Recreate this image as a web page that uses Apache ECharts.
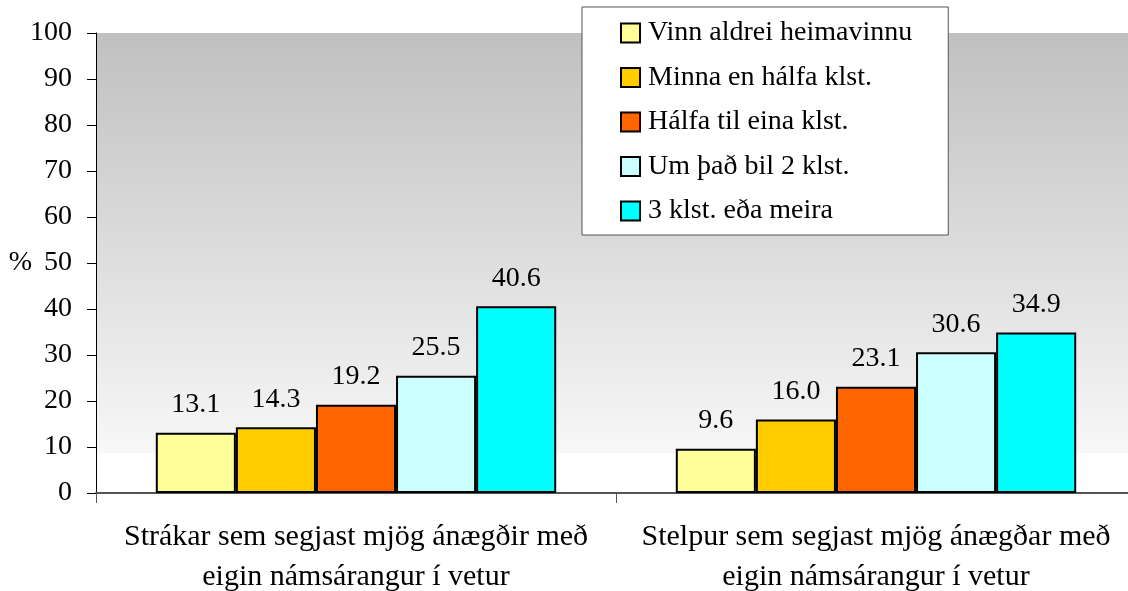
<!DOCTYPE html>
<html>
<head>
<meta charset="utf-8">
<script src="https://cdn.jsdelivr.net/npm/echarts@6/dist/echarts.min.js"></script>
<style>
  html, body { margin: 0; padding: 0; background: #fff; }
  #chart { width: 1128px; height: 591px; }
</style>
</head>
<body>
<div id="chart"></div>
<script>
const categories = [
  'Strákar sem segjast mjög ánægðir með\neigin námsárangur í vetur',
  'Stelpur sem segjast mjög ánægðar með\neigin námsárangur í vetur'
]
const seriesNames = [
  'Vinn aldrei heimavinnu',
  'Minna en hálfa klst.',
  'Hálfa til eina klst.',
  'Um það bil 2 klst.',
  '3 klst. eða meira'
]
const vinnAldrei = [13.1, 9.6]
const minnaEnHalfa = [14.3, 16.0]
const halfaTilEina = [19.2, 23.1]
const umThadBil2 = [25.5, 30.6]
const thrjarEdaMeira = [40.6, 34.9]
const seriesValues = [vinnAldrei, minnaEnHalfa, halfaTilEina, umThadBil2, thrjarEdaMeira]
const colors = ['#FFFF99', '#FFCC00', '#FF6600', '#CCFFFF', '#00FFFF']

const font = "'Liberation Serif', 'Times New Roman', serif"

let myChart = echarts.init(document.getElementById('chart'))
myChart.setOption({
  animation: false,
  textStyle: { fontFamily: font },
  grid: {
    left: 96,
    right: -8,
    top: 33,
    bottom: 98,
    outerBoundsMode: 'none',
    containLabel: false,
    show: true,
    borderWidth: 0,
    backgroundColor: new echarts.graphic.LinearGradient(0, 0, 0, 1, [
      { offset: 0, color: '#c0c0c0' },
      { offset: 0.912, color: '#f7f7f7' },
      { offset: 0.913, color: '#ffffff' },
      { offset: 1, color: '#ffffff' },
    ]),
  },
  legend: {
    orient: 'vertical',
    left: 582,
    top: 7,
    padding: [12, 36, 10, 38],
    backgroundColor: '#ffffff',
    borderColor: '#555555',
    borderWidth: 1,
    itemWidth: 19,
    itemHeight: 19,
    itemGap: 16.5,
    icon: 'rect',
    itemStyle: { borderColor: '#000', borderWidth: 2 },
    textStyle: { fontFamily: font, fontSize: 28, color: '#000', padding: [0, 0, 0, 3] },
    data: seriesNames,
  },
  xAxis: {
    type: 'category',
    data: categories,
    axisLine: { lineStyle: { color: '#555', width: 2 } },
    axisTick: { show: true, interval: 0, length: 10, lineStyle: { color: '#555' } },
    axisLabel: {
      interval: 0,
      fontFamily: font,
      fontSize: 30,
      color: '#000',
      lineHeight: 40,
      margin: 24,
    },
  },
  yAxis: {
    type: 'value',
    min: 0,
    max: 100,
    interval: 10,
    name: '%',
    nameLocation: 'middle',
    nameRotate: 0,
    nameGap: 64,
    nameMoveOverlap: false,
    nameTextStyle: { fontFamily: font, fontSize: 28, color: '#000' },
    axisLine: { show: true, lineStyle: { color: '#000', width: 1 } },
    axisTick: { show: true, inside: false, length: 9, lineStyle: { color: '#000' } },
    axisLabel: { fontFamily: font, fontSize: 28, color: '#000', margin: 24 },
    splitLine: { show: false },
  },
  series: seriesNames.map((name, i) => ({
    name: name,
    type: 'bar',
    data: seriesValues[i],
    barGap: '0%',
    barCategoryGap: '23%',
    itemStyle: { color: colors[i], borderColor: '#000', borderWidth: 2 },
    label: {
      show: true,
      position: 'top',
      distance: 14,
      fontFamily: font,
      fontSize: 28,
      color: '#000',
      formatter: (p) => p.value.toFixed(1),
    },
  })),
})
</script>
</body>
</html>
